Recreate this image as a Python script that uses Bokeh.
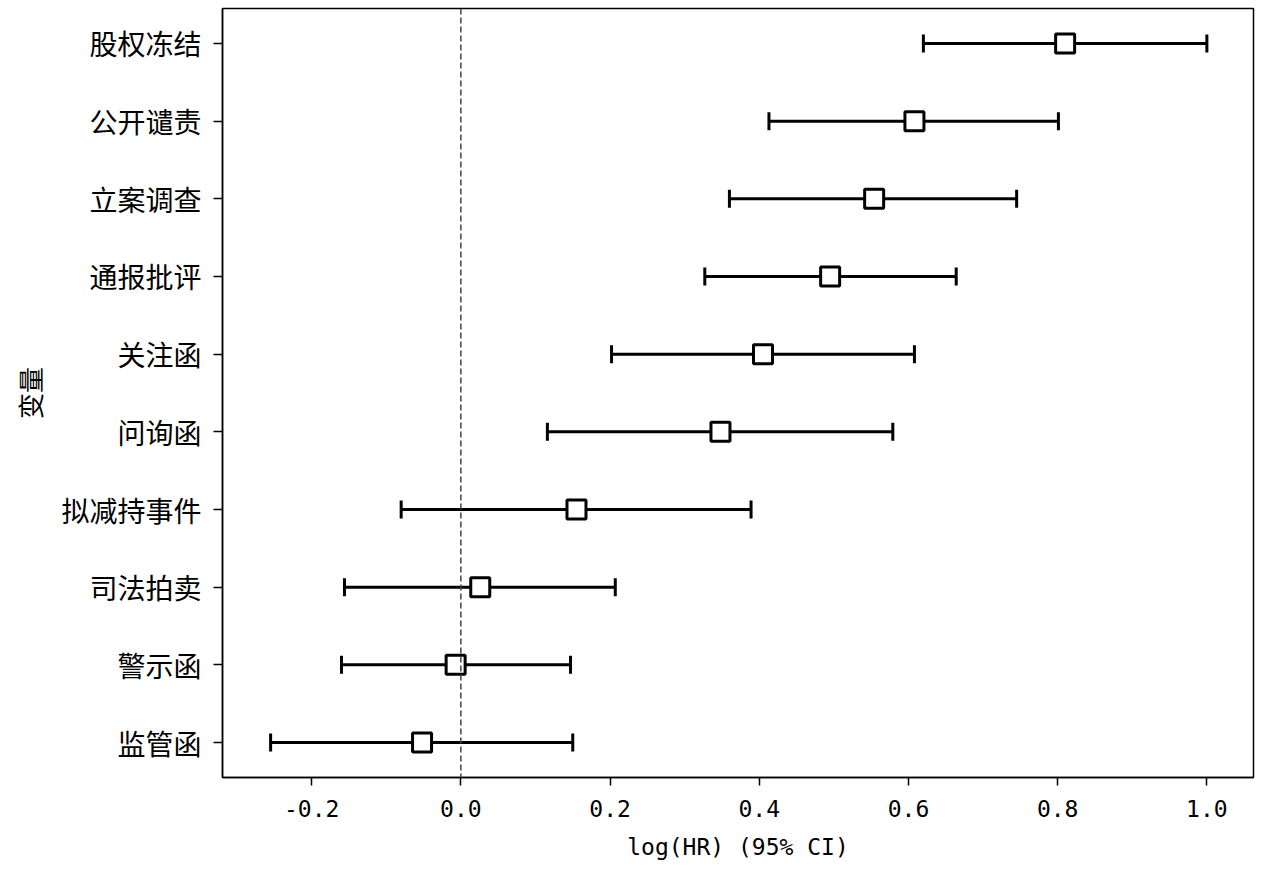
from bokeh.plotting import figure
from bokeh.models import Range1d, FixedTicker, Span, ColumnDataSource
from bokeh.embed import file_html
from bokeh.resources import INLINE

# Data (top to bottom as displayed)
variables = ["股权冻结", "公开谴责", "立案调查", "通报批评", "关注函",
             "问询函", "拟减持事件", "司法拍卖", "警示函", "监管函"]
log_hr = [0.810, 0.608, 0.554, 0.495, 0.405, 0.348, 0.155, 0.026, -0.007, -0.052]
ci_low = [0.620, 0.413, 0.360, 0.327, 0.202, 0.116, -0.080, -0.156, -0.160, -0.255]
ci_high = [1.000, 0.801, 0.745, 0.664, 0.608, 0.579, 0.389, 0.207, 0.147, 0.150]
x_ticks = [-0.2, 0.0, 0.2, 0.4, 0.6, 0.8, 1.0]

n = len(variables)
ypos = [n - 1 - i for i in range(n)]
src = ColumnDataSource(dict(y=ypos, x=log_hr, lo=ci_low, hi=ci_high, name=variables))

CJK = "Noto Sans CJK SC"
MONO = "DejaVu Sans Mono"

p = figure(width=1256, height=862, output_backend="svg", toolbar_location=None,
           x_range=Range1d(-0.3195, 1.0625), y_range=Range1d(-0.45, n - 1 + 0.45),
           min_border_left=222, min_border_right=3, min_border_top=8, min_border_bottom=84)

p.xgrid.visible = False
p.ygrid.visible = False
p.outline_line_color = "black"
p.outline_line_width = 1.5
p.outline_line_alpha = 1.0
p.background_fill_color = "white"
p.border_fill_color = "white"

# reference line at 0
p.add_layout(Span(location=0, dimension="height", line_color="#444444",
                  line_width=1.5, line_dash="6 3"))

# CI lines
p.segment(x0="lo", y0="y", x1="hi", y1="y", source=src, line_color="black", line_width=3)
# caps
p.scatter(x="lo", y="y", source=src, marker="dash", angle=1.5708, size=18,
          line_color="black", line_width=3)
p.scatter(x="hi", y="y", source=src, marker="dash", angle=1.5708, size=18,
          line_color="black", line_width=3)
# point estimates
p.scatter(x="x", y="y", source=src, marker="square", size=19, fill_color="white",
          line_color="black", line_width=3)

# axes
p.xaxis.ticker = FixedTicker(ticks=x_ticks)
p.xaxis.major_label_overrides = {t: f"{t:.1f}" for t in x_ticks}
p.xaxis.major_label_text_font = MONO
p.xaxis.major_label_text_font_size = "23px"
p.xaxis.major_label_text_color = "black"
p.xaxis.major_label_standoff = 14
p.xaxis.major_tick_in = 0
p.xaxis.major_tick_out = 8
p.xaxis.minor_tick_line_color = None
p.xaxis.axis_line_width = 1.5
p.xaxis.major_tick_line_width = 1.5
p.xaxis.axis_label = "log(HR) (95% CI)"
p.xaxis.axis_label_text_font = MONO
p.xaxis.axis_label_text_font_size = "23px"
p.xaxis.axis_label_text_font_style = "normal"
p.xaxis.axis_label_text_color = "black"
p.xaxis.axis_label_standoff = 14

p.yaxis.ticker = FixedTicker(ticks=ypos)
p.yaxis.major_label_overrides = {y: v for y, v in zip(ypos, variables)}
p.yaxis.major_label_text_font = CJK
p.yaxis.major_label_text_font_size = "28px"
p.yaxis.major_label_text_color = "black"
p.yaxis.major_label_standoff = 12
p.yaxis.major_tick_in = 0
p.yaxis.major_tick_out = 9
p.yaxis.minor_tick_line_color = None
p.yaxis.axis_line_width = 1.5
p.yaxis.major_tick_line_width = 1.5
p.yaxis.axis_label = "变量"
p.yaxis.axis_label_text_font = CJK
p.yaxis.axis_label_text_font_size = "26px"
p.yaxis.axis_label_text_font_style = "normal"
p.yaxis.axis_label_text_color = "black"
p.yaxis.axis_label_standoff = 10

open("out.html", "w").write(file_html(p, INLINE))
